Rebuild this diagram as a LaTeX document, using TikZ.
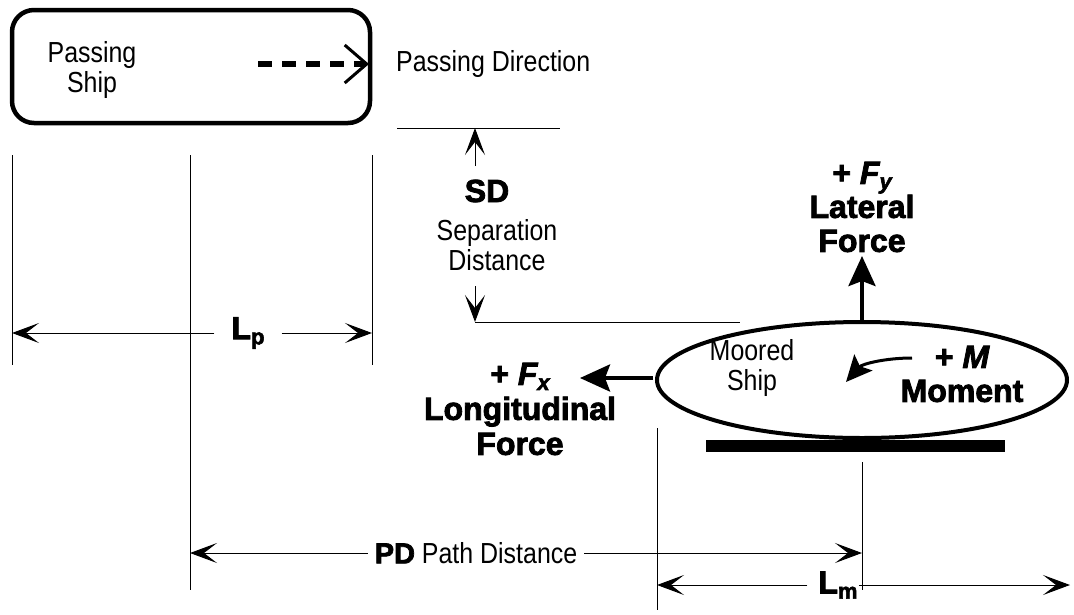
\documentclass[tikz,border=0pt]{standalone}
\usepackage{fontspec}
\setmainfont{Liberation Sans}[FakeStretch=0.86]
\newfontfamily\blk{Liberation Sans Bold}[FakeBold=2.5]
\newfontfamily\blki{Liberation Sans Bold Italic}[FakeBold=2.5]
\usetikzlibrary{arrows.meta,shapes.geometric}
\newcommand{\sbs}[1]{\raisebox{-0.16em}{\fontsize{22}{22}\selectfont #1}}
\tikzset{
  thin line/.style={line width=1pt},
  dim/.style={line width=1pt,-{Stealth[length=27pt,width=20pt,inset=13pt]}},
  force/.style={line width=4pt,-{Stealth[length=30pt,width=27pt,inset=5pt]}},
  txt/.style={font=\fontsize{29}{30}\selectfont,align=center,inner sep=1pt},
  btxt/.style={font=\blk\fontsize{32}{34}\selectfont,align=center,inner sep=1pt},
}
\begin{document}
\begin{tikzpicture}[x=1pt,y=-1pt]
\useasboundingbox (0,0) rectangle (1074,614);
% passing ship
\node[draw,line width=4.5pt,rounded corners=22pt,minimum width=358pt,minimum height=113pt] (ps) at (191,66.5) {};
\node[txt] (pstxt) at (92,70) {Passing\\Ship};
\coordinate (dstart) at (258,64);
\coordinate (dend) at (369,64);
\draw[line width=6.5pt,dash pattern=on 14pt off 10pt,-{Straight Barb[length=22pt,width=38pt,line width=3pt]}] (dstart) -- (dend);
\node[txt,anchor=west] (pdir) at (395,64) {Passing Direction};
% SD
\coordinate (sdl1) at (397,128); \coordinate (sdr1) at (560,128);
\draw[thin line] (sdl1) -- (sdr1);
\coordinate (sdl2) at (475,322); \coordinate (sdr2) at (740,322);
\draw[thin line] (sdl2) -- (sdr2);
\coordinate (upa) at (475,166); \coordinate (upt) at (475,128);
\draw[dim] (upa) -- (upt);
\coordinate (dna) at (475,286); \coordinate (dnt) at (475,322);
\draw[dim] (dna) -- (dnt);
\node[btxt] (sd) at (487,191) {SD};
\node[txt] (sep) at (497,245) {Separation\\Distance};
% Lp
\coordinate (lp1t) at (12,155); \coordinate (lp1b) at (12,365);
\coordinate (lp2t) at (190,155); \coordinate (lp2b) at (190,590);
\coordinate (lp3t) at (372,155); \coordinate (lp3b) at (372,365);
\draw[thin line] (lp1t) -- (lp1b);
\draw[thin line] (lp2t) -- (lp2b);
\draw[thin line] (lp3t) -- (lp3b);
\node[btxt] (lp) at (248,333) {L\sbs{p}};
\coordinate (lpL) at (12,333); \coordinate (lpR) at (372,333);
\draw[dim] (lp.west) ++(-16,0) -- (lpL);
\draw[dim] (lp.east) ++(16,0) -- (lpR);
% moored ship
\node[draw,ellipse,line width=4pt,minimum width=410pt,minimum height=116pt,inner sep=0pt] (ms) at (862,380) {};
\node[txt] (mstxt) at (752,368) {Moored\\Ship};
\node[fill,inner sep=0pt,minimum width=299pt,minimum height=12pt] (bar) at (855.5,446) {};
% forces
\coordinate (fyt) at (862,256);
\draw[force] (ms.north) -- (fyt);
\node[btxt] (fy) at (862,207) {+ {\blki F\sbs{y}}\\Lateral\\Force};
\coordinate (fxt) at (580,378);
\draw[force] (ms.west) ++(-2,-2) -- (fxt);
\node[btxt,font=\blk\fontsize{32}{35}\selectfont] (fx) at (520,409) {+ {\blki F\sbs{x}}\\Longitudinal\\Force};
\node[btxt] (mo) at (962,374) {+ {\blki M}\\Moment};
\coordinate (m1) at (912,358); \coordinate (m2) at (846,382);
\draw[line width=3pt,-{Stealth[length=26pt,width=24pt,inset=5pt]}] (m1) .. controls (885,358) and (862,364) .. (m2);
% PD and Lm
\coordinate (v1t) at (657,428); \coordinate (v1b) at (657,610);
\coordinate (v2t) at (862,462); \coordinate (v2b) at (862,590);
\draw[thin line] (v1t) -- (v1b);
\draw[thin line] (v2t) -- (v2b);
\node[txt,inner sep=7pt] (pd) at (476,553) {{\blk PD} Path Distance};
\coordinate (pdL) at (190,553); \coordinate (pdR) at (862,553);
\draw[dim] (pd.west) -- (pdL);
\draw[dim] (pd.east) -- (pdR);
\node[btxt] (lm) at (838,585) {L\sbs{m}};
\coordinate (lmL) at (657,585); \coordinate (lmR) at (1070,585);
\draw[dim] (lm.west) ++(-10,0) -- (lmL);
\draw[dim] (lm.east) -- (lmR);
\end{tikzpicture}
\end{document}
